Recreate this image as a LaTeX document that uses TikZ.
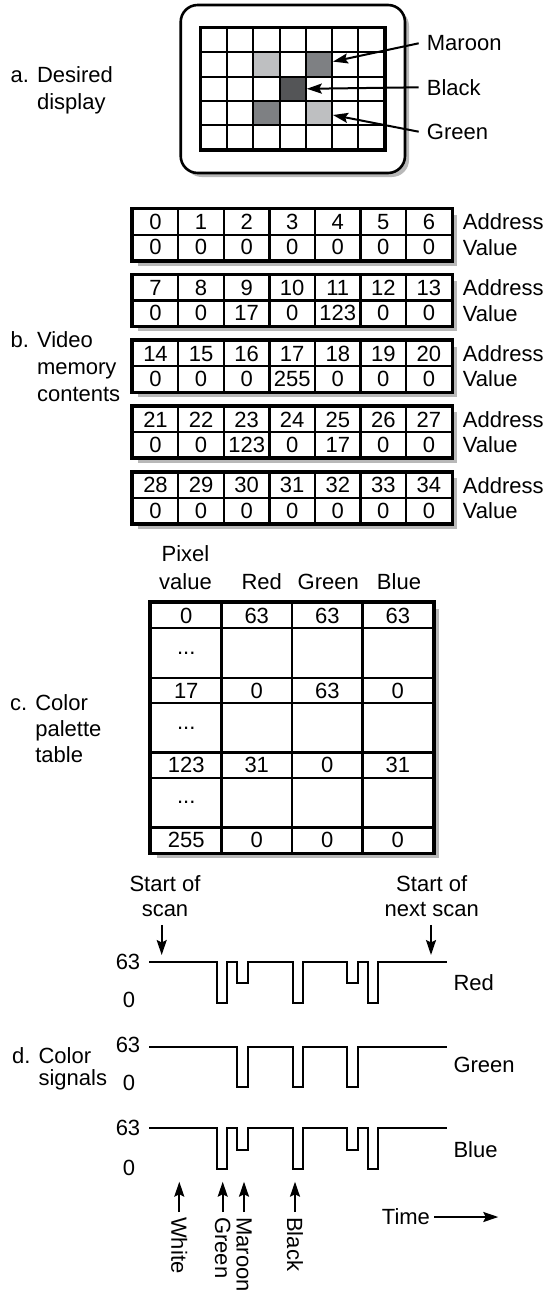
\documentclass[tikz,border=0pt]{standalone}
\usepackage{fontspec}
\setmainfont{Liberation Sans}
\usepackage{xcolor}
\usepackage{tikz}
\usetikzlibrary{arrows.meta}

\definecolor{lightpix}{HTML}{BEBFC1}
\definecolor{midpix}{HTML}{7E8083}
\definecolor{darkpix}{HTML}{545557}
\definecolor{shadowgray}{HTML}{B8B8B8}

\begin{document}
\begin{tikzpicture}[
      x=1pt, y=-1pt,
      arr/.style={-{Stealth[length=15pt, width=10pt, inset=2.5pt]}, line width=2pt},
      txt/.style={font=\fontsize{22}{26.4}\selectfont, inner sep=0pt},
      partlbl/.style={txt, anchor=base west},
      tag/.style={txt, anchor=west, inner xsep=8pt},
      vtag/.style={txt, rotate=-90, anchor=west, inner xsep=5pt},
      monitor/.style={draw, fill=white, line width=2.6pt, rounded corners=17pt},
      pix/.style={draw, line width=2pt, minimum width=26.19pt,
          minimum height=24.2pt, inner sep=0pt},
      gridframe/.style={draw, line width=2.6pt},
      shadowfill/.style={fill=shadowgray},
      memcell/.style={txt, draw, fill=white, line width=2.2pt,
          minimum width=45.57pt, minimum height=25.35pt},
      memframe/.style={draw, line width=3pt},
      palcell/.style={txt, draw, fill=white, line width=2.3pt,
          minimum width=70.5pt, minimum height=25.3pt},
      palframe/.style={draw, line width=3pt},
      wave/.style={line width=2.3pt},
    ]
    \useasboundingbox (0,0) rectangle (547,1295);

    %% ── a. DESIRED DISPLAY ─────────────────────────────────────────────────
    \node[partlbl] at (10.5, 82.7) (parta)
    {\begin{tabular}[t]{@{}l@{\hspace{8pt}}l@{}}a. & Desired\\ & display\end{tabular}};

    \fill[shadowfill, rounded corners=17pt] (184.7, 9) rectangle (409, 177);
    \draw[monitor] (180.7, 5) rectangle (405, 173);

    \foreach \r/\c/\tone in {1/2/lightpix, 1/4/midpix, 2/3/darkpix,
        3/2/midpix, 3/4/lightpix}
      \fill[fill=\tone] (201+26.19*\c, 28.3+24.2*\r) rectangle ++(26.19, 24.2);
    \foreach \r in {0,...,4}
      \foreach \c in {0,...,6}
        \node[pix] at (214.1+26.19*\c, 40.4+24.2*\r) (px\r\c) {};
    \draw[gridframe] (px00.north west) rectangle (px46.south east);

    \node[tag] at (418.7, 43.3)  (lmaroon) {Maroon};
    \node[tag] at (418.7, 87.3)  (lblack)  {Black};
    \node[tag] at (418.7, 131.7) (lgreen)  {Green};

    \draw[arr] (lmaroon.west) -- ([yshift=3pt]px14.east);
    \draw[arr] (lblack.west)  -- (px23.east);
    \draw[arr] (lgreen.west)  -- ([yshift=-2pt]px34.east);

    %% ── b. VIDEO MEMORY CONTENTS ───────────────────────────────────────────
    \node[partlbl] at (10.5, 347) (partb)
    {\begin{tabular}[t]{@{}l@{\hspace{8pt}}l@{}}b. & Video\\[0.6pt] & memory\\[0.6pt] & contents\end{tabular}};

    \foreach \k/\vals in {0/{0,0,0,0,0,0,0}, 1/{0,0,17,0,123,0,0},
        2/{0,0,0,255,0,0,0}, 3/{0,0,123,0,17,0,0}, 4/{0,0,0,0,0,0,0}} {
      \pgfmathsetmacro{\ytop}{209.3+65.85*\k}
      \fill[shadowfill] (137.7, \ytop+5.5) rectangle (457.3, \ytop+56.2);
      \foreach \v [count=\c from 0] in \vals {
        \pgfmathtruncatemacro{\adr}{7*\k+\c}
        \node[memcell] at (155.5+45.57*\c, \ytop+12.67) (a\k-\c) {\adr};
        \node[memcell] at (155.5+45.57*\c, \ytop+38.02) (v\k-\c) {\v};
      }
      \draw[memframe] (a\k-0.north west) rectangle (v\k-6.south east);
      \node[txt, anchor=west] at (462.7, \ytop+12.67) (ad\k) {Address};
      \node[txt, anchor=west] at (462.7, \ytop+38.02) (vl\k) {Value};
    }

    %% ── c. COLOR PALETTE TABLE ─────────────────────────────────────────────
    \node[partlbl] at (10, 710) (partc)
    {\begin{tabular}[t]{@{}l@{\hspace{8pt}}l@{}}c. & Color\\ & palette\\ & table\end{tabular}};

    \node[txt, anchor=base] at (185.5, 561.7) (hpix)
    {\begin{tabular}[t]{@{}c@{}}Pixel\\[1pt] value\end{tabular}};
    \node[txt, anchor=base] at (261.7, 589) (hred)   {Red};
    \node[txt, anchor=base] at (328.3, 589) (hgreen) {Green};
    \node[txt, anchor=base] at (399, 589)   (hblue)  {Blue};

    \fill[shadowfill] (156.5, 608.5) rectangle (438.5, 858.2);
    \foreach \r/\yc/\pv/\rv/\gv/\bv in {0/615.65/0/63/63/63, 2/690.45/17/0/63/0,
        4/765.25/123/31/0/31, 6/840.05/255/0/0/0} {
      \node[palcell] at (186.25, \yc) (pc\r-0) {\pv};
      \node[palcell] at (256.75, \yc) (pc\r-1) {\rv};
      \node[palcell] at (327.25, \yc) (pc\r-2) {\gv};
      \node[palcell] at (397.75, \yc) (pc\r-3) {\bv};
    }
    \foreach \r/\yc in {1/653.05, 3/727.85, 5/802.65} {
      \node[palcell, minimum height=49.5pt] at (186.25, \yc) (pc\r-0) {...};
      \node[palcell, minimum height=49.5pt] at (256.75, \yc) (pc\r-1) {};
      \node[palcell, minimum height=49.5pt] at (327.25, \yc) (pc\r-2) {};
      \node[palcell, minimum height=49.5pt] at (397.75, \yc) (pc\r-3) {};
    }
    \draw[palframe] (pc0-0.north west) rectangle (pc6-3.south east);

    %% ── d. COLOR SIGNALS ───────────────────────────────────────────────────
    \node[partlbl] at (12, 1063.3) (partd)
    {\begin{tabular}[t]{@{}l@{\hspace{8pt}}l@{}}d. & Color\\[-4.7pt] & signals\end{tabular}};

    \node[txt, anchor=base] at (165, 891.7) (sos)
    {\begin{tabular}[t]{@{}c@{}}Start of\\[-1.4pt] scan\end{tabular}};
    \node[txt, anchor=base] at (431.7, 891.7) (nos)
    {\begin{tabular}[t]{@{}c@{}}Start of\\[-1.4pt] next scan\end{tabular}};
    \coordinate (scanA) at (161.7, 955);
    \coordinate (scanB) at (431, 955);
    \draw[arr] (sos.south -| scanA) -- (scanA);
    \draw[arr] (nos.south -| scanB) -- (scanB);

    % red
    \begin{scope}[shift={(0,962)}]
      \draw[wave] (149,0) -| (216.7,41) -| (226.7,0) -| (237.3,21) -| (247.7,0)
        -| (292.7,41) -| (302.7,0) -| (347.3,21) -| (357.7,0)
        -| (368.3,41) -| (378.3,0) -- (447,0);
    \end{scope}
    \node[txt] at (128, 961.7) (r63) {63};
    \node[txt] at (129, 1000)  (r0)  {0};
    \node[txt, anchor=west] at (453.3, 982.7) (sred) {Red};

    % green
    \begin{scope}[shift={(0,1046.7)}]
      \draw[wave] (149,0) -| (237.3,40.6) -| (247.7,0) -| (292.7,40.6)
        -| (302.7,0) -| (347.3,40.6) -| (357.7,0) -- (447,0);
    \end{scope}
    \node[txt] at (128, 1045)   (g63) {63};
    \node[txt] at (129, 1083.3) (g0)  {0};
    \node[txt, anchor=west] at (453.3, 1065) (sgreen) {Green};

    % blue
    \begin{scope}[shift={(0,1128.3)}]
      \draw[wave] (149,0) -| (216.7,41) -| (226.7,0) -| (237.3,21.7) -| (247.7,0)
        -| (292.7,41) -| (302.7,0) -| (347.3,21.7) -| (357.7,0)
        -| (368.3,41) -| (378.3,0) -- (447,0);
    \end{scope}
    \node[txt] at (128, 1128) (b63) {63};
    \node[txt] at (129, 1168) (b0)  {0};
    \node[txt, anchor=west] at (453.3, 1149.3) (sblue) {Blue};

    %% ── MARKERS ─────────────────────────────────────────────────────────────
    \coordinate (mwhite)  at (179.3, 1181.7);
    \coordinate (mgreen)  at (222.7, 1181.7);
    \coordinate (mmaroon) at (244, 1181.7);
    \coordinate (mblack)  at (295, 1181.7);
    \node[vtag] at (179.3, 1212) (vwhite)  {White};
    \node[vtag] at (222.7, 1212) (vgreen)  {Green};
    \node[vtag] at (244, 1212)   (vmaroon) {Maroon};
    \node[vtag] at (295, 1212)   (vblack)  {Black};
    \draw[arr] (vwhite.west)  -- (mwhite);
    \draw[arr] (vgreen.west)  -- (mgreen);
    \draw[arr] (vmaroon.west) -- (mmaroon);
    \draw[arr] (vblack.west)  -- (mblack);

    \node[txt, anchor=west, inner xsep=4pt] at (377.7, 1217) (ltime) {Time};
    \coordinate (tend) at (498.3, 1217);
    \draw[arr] (ltime.east) -- (tend);

  \end{tikzpicture}
\end{document}
